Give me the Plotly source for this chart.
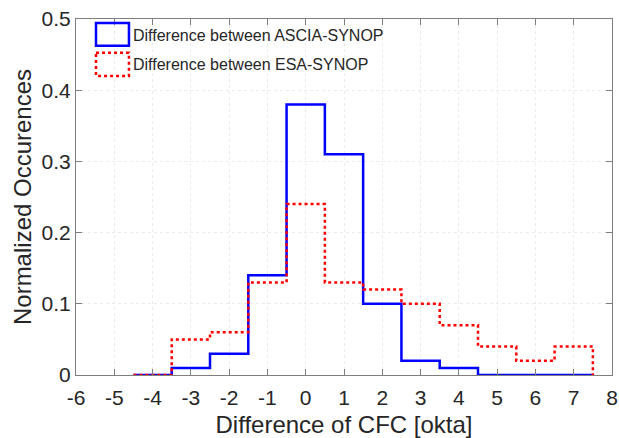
import numpy as np
import plotly.graph_objects as go

bin_centers = [-4, -3, -2, -1, 0, 1, 2, 3, 4, 5, 6, 7]
ascia_synop = [0.0, 0.01, 0.03, 0.14, 0.38, 0.31, 0.10, 0.02, 0.01, 0.0, 0.0, 0.0]
esa_synop = [0.0, 0.05, 0.06, 0.13, 0.24, 0.13, 0.12, 0.10, 0.07, 0.04, 0.02, 0.04]
series_names = ["Difference between ASCIA-SYNOP", "Difference between ESA-SYNOP"]
x_ticks = list(range(-6, 9))
y_ticks = [0, 0.1, 0.2, 0.3, 0.4, 0.5]
y_tick_labels = ["0", "0.1", "0.2", "0.3", "0.4", "0.5"]


def stairs(centers, values):
    c = np.array(centers, dtype=float)
    edges = np.concatenate([c - 0.5, [c[-1] + 0.5]])
    xs = np.concatenate([[edges[0]], edges])
    ys = np.concatenate([[0.0], np.array(values, dtype=float), [0.0]])
    return xs, ys


FONT = "Liberation Sans, Arial"
fig = go.Figure()
xb, yb = stairs(bin_centers, ascia_synop)
xr, yr = stairs(bin_centers, esa_synop)
fig.add_trace(go.Scatter(x=xb, y=yb, mode="lines", line=dict(color="#0000ff", width=2.5, shape="hv"),
                         name=series_names[0], showlegend=False))
fig.add_trace(go.Scatter(x=xr, y=yr, mode="lines", line=dict(color="#ff0000", width=2.5, shape="hv", dash="dot"),
                         name=series_names[1], showlegend=False))

axis_common = dict(
    showline=True, linecolor="#7f7f7f", linewidth=1, mirror="ticks",
    ticks="inside", ticklen=6, tickcolor="#7f7f7f",
    showgrid=True, gridcolor="#ebebeb", griddash="dot", gridwidth=1,
    zeroline=False, automargin=False,
    tickfont=dict(family=FONT, size=21, color="#262626"),
)

fig.update_xaxes(range=[-6, 8], tickvals=x_ticks, ticktext=[str(v) for v in x_ticks],
                 ticklabelstandoff=4,
                 title=dict(text="Difference of CFC [okta]", font=dict(family=FONT, size=24, color="#262626"), standoff=10),
                 **axis_common)
fig.update_yaxes(range=[0, 0.5], tickvals=y_ticks, ticktext=y_tick_labels,
                 title=dict(text="Normalized Occurences", font=dict(family=FONT, size=24, color="#262626"), standoff=3),
                 **axis_common)

# custom legend (rectangle icons like MATLAB histogram legend)
legend_items = [
    dict(color="#0000ff", dash="solid", y0=0.989, y1=0.925, ty=0.955, name=series_names[0]),
    dict(color="#ff0000", dash="dot", y0=0.905, y1=0.84, ty=0.871, name=series_names[1]),
]
for it in legend_items:
    fig.add_shape(type="rect", xref="paper", yref="paper", x0=0.0373, x1=0.0988, y0=it["y0"], y1=it["y1"],
                  line=dict(color=it["color"], width=2.5, dash=it["dash"]), fillcolor="rgba(0,0,0,0)")
    fig.add_annotation(xref="paper", yref="paper", x=0.1025, y=it["ty"], xanchor="left", yanchor="middle",
                       text=it["name"], showarrow=False,
                       font=dict(family=FONT, size=16, color="#262626"))

fig.update_layout(
    width=619, height=438,
    margin=dict(l=76, r=7, t=19, b=63),
    plot_bgcolor="white", paper_bgcolor="white",
)

fig.write_html("out.html", config={"displayModeBar": False},
               post_script="document.body.style.margin='0';")
